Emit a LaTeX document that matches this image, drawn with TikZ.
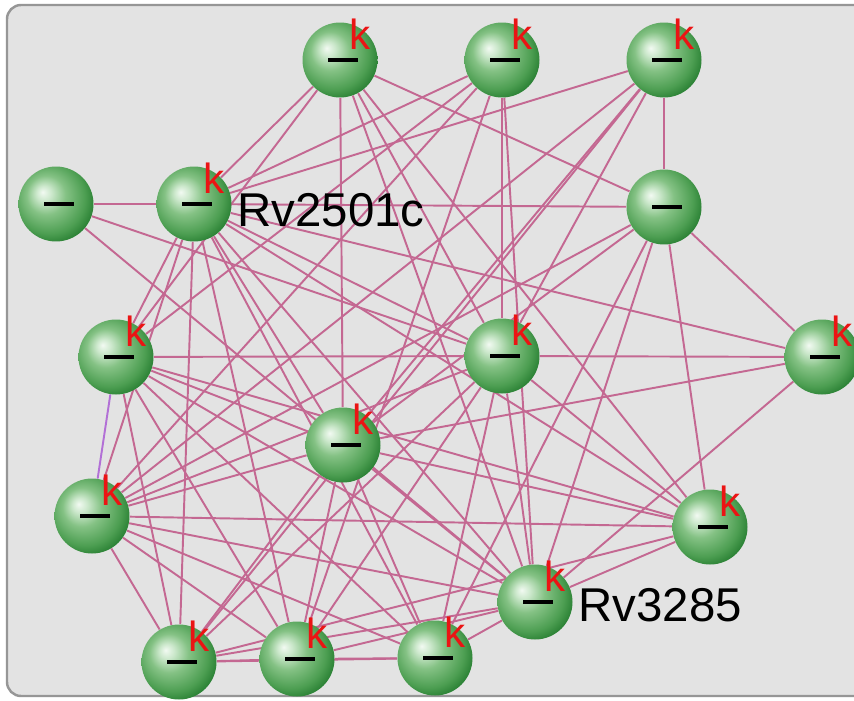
\documentclass[tikz,border=0pt]{standalone}
\usepackage{fontspec}
\setmainfont{Liberation Sans}
\usepackage{tikz}
\usetikzlibrary{calc, positioning}
\definecolor{panelgrey}{RGB}{227,227,227}
\definecolor{framegrey}{RGB}{150,150,150}
\definecolor{linkpink}{RGB}{196,104,146}
\definecolor{linkviolet}{RGB}{178,112,214}
\definecolor{kred}{RGB}{235,20,20}
\pgfdeclareradialshading{greenball}{\pgfpoint{-9bp}{8bp}}{%
  rgb(0bp)=(0.95,0.98,0.95); rgb(5bp)=(0.80,0.91,0.80); rgb(13bp)=(0.52,0.76,0.52);
  rgb(24bp)=(0.30,0.62,0.32); rgb(30bp)=(0.16,0.50,0.20); rgb(50bp)=(0.16,0.50,0.20)}
\pgfdeclarelayer{back}
\pgfdeclarelayer{bg}
\pgfsetlayers{back,bg,main}

\begin{document}
\begin{tikzpicture}[x=0.02cm, y=-0.02cm,
  prot/.style={circle, inner sep=0pt, minimum size=1.5cm, shading=greenball},
  kmark/.style={text=kred, font=\fontsize{24}{24}\selectfont, inner sep=0pt},
  protlabel/.style={font=\fontsize{27}{27}\selectfont, inner sep=0pt, anchor=west},
  link/.style={linkpink, line width=1.1pt}]
  \useasboundingbox (0,0) rectangle (854,700);
  \clip (0,0) rectangle (854,700);
  \begin{pgfonlayer}{back}
    \fill[white] (0,0) rectangle (854,700);
    \draw[framegrey, fill=panelgrey, line width=1.4pt, rounded corners=8pt] (7,5) rectangle (880,696);
  \end{pgfonlayer}
  % proteins
  \foreach \n/\x/\y in {n1/340/60, n2/502/60, n3/664/60, n4/56/204, n5/194/204,
                        n6/664/207, n7/116/357, n8/502/356, n9/822/357, n10/343/445,
                        n11/92/516, n12/710/527, n13/535/602, n14/179/662,
                        n15/297/659, n16/435/658} {
    \node[prot] (\n) at (\x,\y) {};
    \node[inner sep=0pt] (\n-bar) at ([xshift=0.06cm]\n.center) {\rule{0.6cm}{2.2pt}};
  }
  \foreach \n in {n1,n2,n3,n5,n7,n8,n9,n10,n11,n12,n13,n14,n15,n16}
    \node[kmark] (\n-k) at ([xshift=0.4cm, yshift=0.52cm]\n.center) {k};
  \node[protlabel] (lbl5) at (237,210) {Rv2501c};
  \node[protlabel] (lbl13) at (578,605) {Rv3285};
  % interactions
  \begin{pgfonlayer}{bg}
    \foreach \a/\b in {n5/n1, n5/n2, n5/n3, n5/n4, n5/n6, n5/n7, n5/n11, n5/n14,
                       n5/n15, n5/n10, n5/n8, n5/n13, n5/n12, n5/n16, n5/n9,
                       n4/n8, n4/n13,
                       n1/n10, n1/n8, n1/n6, n1/n13, n1/n12, n1/n7,
                       n2/n8, n2/n13, n2/n7, n2/n11, n2/n15,
                       n3/n6, n3/n10, n3/n11, n3/n8, n3/n14,
                       n6/n9, n6/n12, n6/n13, n6/n16, n6/n11, n6/n10,
                       n7/n8, n7/n10, n7/n13, n7/n16, n7/n15, n7/n14, n7/n12,
                       n8/n9, n8/n11, n8/n14, n8/n15, n8/n16, n8/n13, n8/n12,
                       n9/n10, n9/n13,
                       n10/n11, n10/n13, n10/n14, n10/n15, n10/n16, n10/n12,
                       n11/n13, n11/n15, n11/n16, n11/n12, n11/n14,
                       n12/n13, n12/n14,
                       n13/n14, n13/n15, n13/n16,
                       n14/n15, n14/n16, n15/n16}
      \draw[link] (\a) -- (\b);
    \draw[link, linkviolet] (n7) -- (n11);
  \end{pgfonlayer}
\end{tikzpicture}
\end{document}
